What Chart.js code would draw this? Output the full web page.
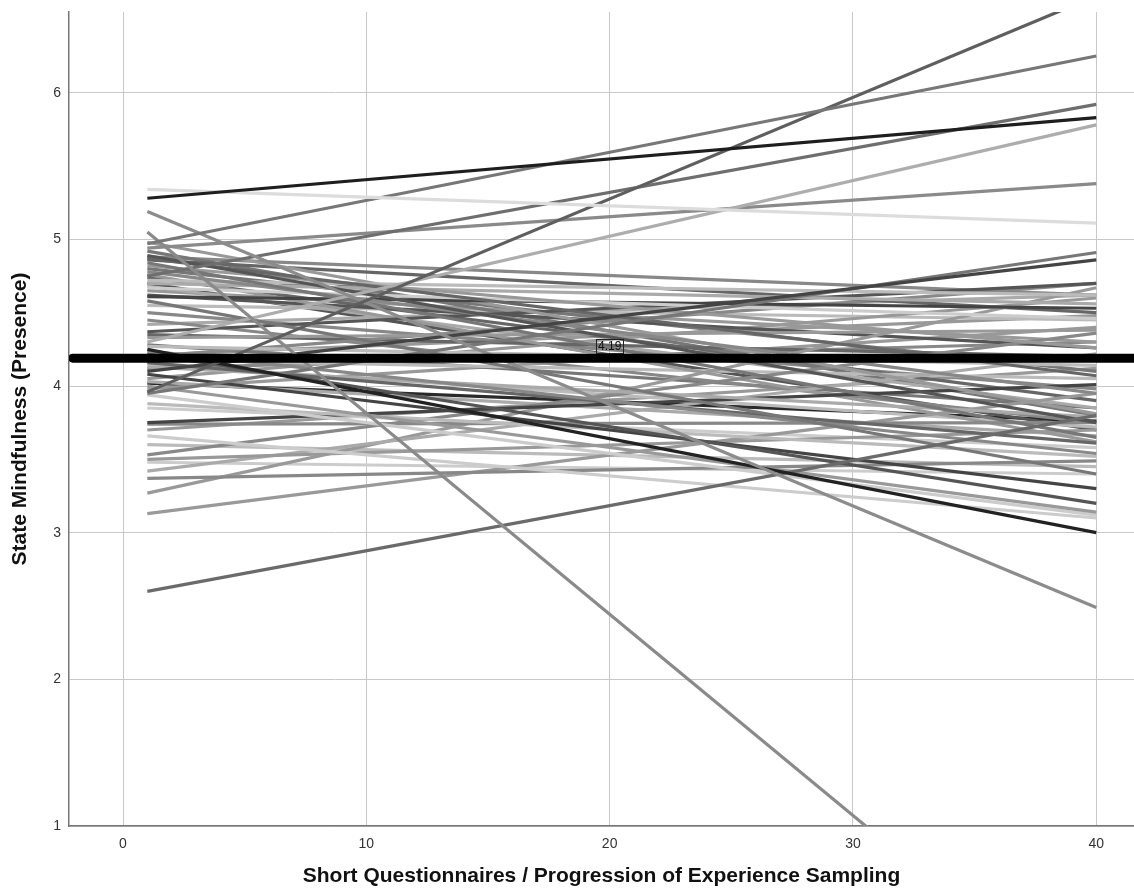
<!DOCTYPE html>
<html>
<head>
<meta charset="utf-8">
<script src="https://cdn.jsdelivr.net/npm/chart.js@4.4.1/dist/chart.umd.min.js"></script>
<style>
  html, body { margin: 0; padding: 0; background: #fff; }
  #wrap { width: 1134px; height: 893px; }
</style>
</head>
<body>
<div id="wrap"><canvas id="presenceChart" width="1134" height="893"></canvas></div>
<script>
// Each participant's fitted line runs from the first to the last questionnaire
const firstQuestionnaire = 1;
const lastQuestionnaire = 40;

// Fitted value at questionnaire 1 and questionnaire 40, one entry per participant
const startValues = [
    5.28, 5.34, 4.97, 3.96, 5.19, 5.05, 4.75, 4.30, 4.94, 4.25,
    2.60, 4.10, 3.95, 4.89, 4.87, 4.84, 4.82, 4.78, 4.72, 4.70,
    4.67, 4.61, 4.58, 4.98, 4.37, 4.33, 4.27, 4.24, 4.22, 4.16,
    4.13, 4.08, 4.00, 3.94, 3.88, 3.75, 3.74, 3.66, 3.53, 3.50,
    3.42, 3.37, 3.27, 3.13, 4.86, 4.76, 4.20, 4.35, 4.18, 4.62,
    4.45, 4.68, 3.48, 4.05, 4.92, 4.80, 4.74, 4.65, 4.55, 4.50,
    4.42, 4.28, 4.21, 4.15, 4.12, 4.03, 3.98, 3.85, 3.70, 3.60,
    4.88, 4.70, 4.02
];
const endValues = [
    5.83, 5.11, 6.25, 6.66, 2.49, -0.30, 5.92, 5.78, 5.38, 3.00,
    3.80, 4.86, 4.91, 3.75, 4.07, 3.65, 4.26, 3.95, 4.62, 4.56,
    4.46, 4.53, 3.40, 3.81, 4.70, 4.38, 4.14, 3.54, 3.20, 3.61,
    3.79, 3.30, 3.14, 3.12, 3.52, 4.01, 3.75, 3.10, 4.36, 3.70,
    4.22, 3.49, 4.67, 3.95, 4.50, 3.62, 4.70, 4.20, 4.05, 4.26,
    3.75, 3.85, 3.40, 4.60, 3.80, 4.10, 3.90, 4.30, 4.45, 3.98,
    4.62, 3.85, 4.48, 3.72, 4.30, 3.66, 4.40, 3.58, 4.12, 3.45,
    4.62, 3.70, 3.76
];
const lineShades = [
    '#1e1e1e', '#dcdcdc', '#777777', '#5e5e5e', '#8c8c8c', '#8a8a8a', '#6e6e6e', '#adadad', '#8a8a8a', '#222222',
    '#6a6a6a', '#444444', '#777777', '#555555', '#666666', '#777777', '#999999', '#888888', '#bbbbbb', '#aaaaaa',
    '#cccccc', '#444444', '#777777', '#999999', '#555555', '#999999', '#bbbbbb', '#888888', '#555555', '#666666',
    '#aaaaaa', '#444444', '#999999', '#cccccc', '#bbbbbb', '#444444', '#888888', '#cccccc', '#888888', '#999999',
    '#aaaaaa', '#888888', '#999999', '#999999', '#666666', '#999999', '#888888', '#666666', '#bbbbbb', '#555555',
    '#888888', '#aaaaaa', '#cccccc', '#999999', '#777777', '#777777', '#666666', '#999999', '#bbbbbb', '#888888',
    '#aaaaaa', '#777777', '#999999', '#bbbbbb', '#888888', '#aaaaaa', '#999999', '#cccccc', '#999999', '#bbbbbb',
    '#888888', '#555555', '#2a2a2a'
];

// Overall mean and axis ticks
const grandMean = 4.19;
const xTicks = [0, 10, 20, 30, 40];
const yTicks = [1, 2, 3, 4, 5, 6];
const xTitle = 'Short Questionnaires / Progression of Experience Sampling';
const yTitle = 'State Mindfulness (Presence)';

const X_MIN = -2.22;
const X_MAX = 41.55;
const Y_MIN = 1;
const Y_MAX = 6.55;

const FONT = '"Liberation Sans", Arial, sans-serif';

// Draws the boxed "4.19" label above the mean line
const meanLabelPlugin = {
    id: 'meanLabel',
    afterDatasetsDraw(chart) {
        const ctx = chart.ctx;
        const x = chart.scales.x.getPixelForValue(20);
        const y = chart.scales.y.getPixelForValue(grandMean);
        const text = grandMean.toFixed(2);
        ctx.save();
        ctx.font = '12px ' + FONT;
        const w = ctx.measureText(text).width + 4;
        const h = 14;
        const top = y - 5 - h;
        ctx.strokeStyle = '#222';
        ctx.lineWidth = 1;
        ctx.strokeRect(Math.round(x - w / 2) + 0.5, Math.round(top) + 0.5, Math.round(w), h);
        ctx.fillStyle = '#111';
        ctx.textAlign = 'center';
        ctx.textBaseline = 'middle';
        ctx.fillText(text, x, top + h / 2 + 1);
        ctx.restore();
    }
};

function buildDatasets() {
    const sets = [{
        data: [{ x: X_MIN + 0.15, y: grandMean }, { x: X_MAX + 1, y: grandMean }],
        borderColor: '#000',
        borderWidth: 9,
        borderCapStyle: 'round',
        pointRadius: 0
    }];
    startValues.forEach((start, i) => {
        sets.push({
            data: [
                { x: firstQuestionnaire, y: start },
                { x: lastQuestionnaire, y: endValues[i] }
            ],
            borderColor: lineShades[i],
            borderWidth: 3.2,
            pointRadius: 0
        });
    });
    return sets;
}

function initPresenceChart() {
    const ctx = document.getElementById('presenceChart').getContext('2d');
    new Chart(ctx, {
        type: 'line',
        data: { datasets: buildDatasets() },
        options: {
            responsive: false,
            animation: false,
            layout: { padding: { top: 12 } },
            plugins: {
                legend: { display: false },
                tooltip: { enabled: false }
            },
            scales: {
                x: {
                    type: 'linear',
                    min: X_MIN,
                    max: X_MAX,
                    afterBuildTicks: (scale) => {
                        scale.ticks = xTicks.map(v => ({ value: v }));
                    },
                    afterFit: (scale) => {
                        scale.height = 67;
                        scale.paddingLeft = 0;
                        scale.paddingRight = 0;
                    },
                    ticks: {
                        color: '#333',
                        font: { family: FONT, size: 14 },
                        padding: 10,
                        maxRotation: 0
                    },
                    grid: { color: '#c8c8c8', lineWidth: 1, drawTicks: false },
                    border: { color: '#777', width: 1.5 },
                    title: {
                        display: true,
                        text: xTitle,
                        color: '#111',
                        font: { family: FONT, size: 21, weight: 'bold' },
                        padding: { top: 6 }
                    }
                },
                y: {
                    type: 'linear',
                    min: Y_MIN,
                    max: Y_MAX,
                    afterBuildTicks: (scale) => {
                        scale.ticks = yTicks.map(v => ({ value: v }));
                    },
                    afterFit: (scale) => {
                        scale.width = 69;
                        scale.paddingTop = 0;
                        scale.paddingBottom = 0;
                    },
                    ticks: {
                        color: '#333',
                        font: { family: FONT, size: 14 },
                        padding: 8
                    },
                    grid: { color: '#c8c8c8', lineWidth: 1, drawTicks: false },
                    border: { color: '#777', width: 1.5 },
                    title: {
                        display: true,
                        text: yTitle,
                        color: '#111',
                        font: { family: FONT, size: 21, weight: 'bold' },
                        padding: { top: 8, bottom: 8 }
                    }
                }
            }
        },
        plugins: [meanLabelPlugin]
    });
}

document.addEventListener('DOMContentLoaded', () => {
    initPresenceChart();
});
</script>
</body>
</html>
